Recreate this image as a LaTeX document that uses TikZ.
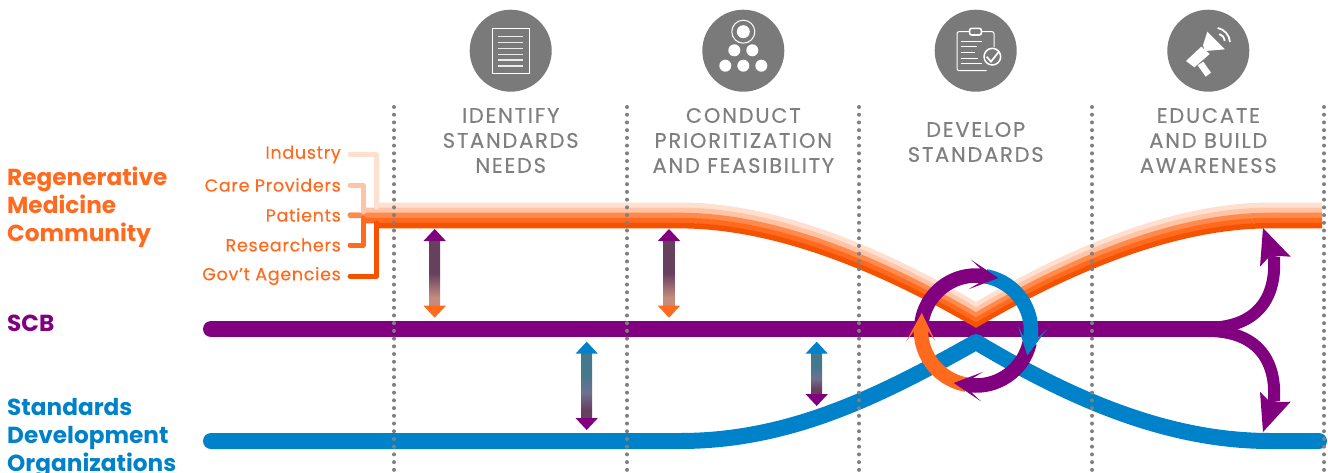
\documentclass[tikz,border=0pt]{standalone}
\usepackage{fontspec}
\setmainfont{Poppins}
\newfontfamily\phasefont{Poppins}[LetterSpace=8.5,FakeBold=0.4]
\newfontfamily\memberfont{Poppins}[LetterSpace=4,FakeBold=0.4]
\definecolor{or1}{HTML}{FFE0D0}
\definecolor{or2}{HTML}{FFC4A6}
\definecolor{or3}{HTML}{FF8A4D}
\definecolor{or4}{HTML}{FF6A1F}
\definecolor{or5}{HTML}{F55200}
\definecolor{scb}{HTML}{800080}
\definecolor{sdo}{HTML}{0082CA}
\definecolor{icongray}{HTML}{7A7A7A}
\definecolor{headgray}{HTML}{7F7F7F}
\definecolor{dotgray}{HTML}{808080}
\definecolor{shPurple}{HTML}{68405F}
\definecolor{shOrange}{HTML}{C48C7C}
\definecolor{shBlue}{HTML}{44788F}
\definecolor{shMid}{HTML}{6F7092}
\pgfdeclareverticalshading{shadeOrange}{100bp}{color(0bp)=(shOrange);color(25bp)=(shOrange);color(32bp)=(shOrange);color(50bp)=(shPurple);color(75bp)=(shPurple);color(100bp)=(shPurple)}
\pgfdeclareverticalshading{shadeBlue}{100bp}{color(0bp)=(shPurple);color(25bp)=(shPurple);color(32bp)=(shPurple);color(45bp)=(shMid);color(58bp)=(shBlue);color(75bp)=(shBlue);color(100bp)=(shBlue)}
\tikzset{
  bigband/.style={line width=16pt,line cap=round,line join=round},
  stub/.style={line width=5pt,line cap=round,line join=round},
  dots/.style={dotgray,line width=4pt,line cap=round,dash pattern=on 0pt off 7.72pt},
  ringarc/.style={line width=14.5pt},
  iconbg/.style={circle,fill=icongray,minimum size=82pt,inner sep=0pt},
  phase/.style={headgray,align=center,font=\fontsize{21}{25}\phasefont,inner sep=0pt},
  group/.style={align=left,anchor=north west,font=\fontsize{23.2}{28}\selectfont\bfseries,inner sep=0pt},
  member/.style={or4,anchor=east,font=\fontsize{17.5}{20}\memberfont,inner sep=0pt},
  iconline/.style={white,line width=1pt},
}
% orange ribbon layer: top edge offset #2, start x #3
\newcommand\ribbon[3]{\fill[#1,shift={(0,#2)}]
  (#3,202.5) -- (680,202.5) .. controls (772,202.5) and (875,243) .. (976,302)
  .. controls (1077,243) and (1178,202.5) .. (1270,202.5) -- (1322,202.5)
  -- (1322,208) -- (1270,208) .. controls (1178,208) and (1077,248.5) .. (976,307.5)
  .. controls (875,248.5) and (772,208) .. (680,208) -- (#3,208) -- cycle;}
% double arrow: x, top tip, bottom tip, top colour, bottom colour, shading
\newcommand\twoway[6]{
  \shade[shading=#6] (#1-5.5,#2+11) rectangle (#1+5.5,#3-11);
  \fill[#4] (#1,#2) -- (#1+11.2,#2+12) -- (#1-11.2,#2+12) -- cycle;
  \fill[#5] (#1,#3) -- (#1+11.2,#3-12) -- (#1+5.5,#3-12) -- (#1-5.5,#3-12) -- (#1-11.2,#3-12) -- cycle;
}
% ring arc, clockwise on screen
\newcommand\ringshaft[3]{\draw[ringarc,#1] plot[domain=#2:#3,samples=40] ({976+55*cos(\x)},{330.5+55*sin(\x)});}
\newcommand\ringhead[2]{\fill[#1]
  ({976+57*cos(#2)},{330.5+57*sin(#2)})
  -- ({976+71*cos(#2-27)},{330.5+71*sin(#2-27)})
  -- ({976+62.2*cos(#2-19)},{330.5+62.2*sin(#2-19)})
  -- ({976+47.8*cos(#2-19)},{330.5+47.8*sin(#2-19)})
  -- ({976+42*cos(#2-33)},{330.5+42*sin(#2-33)}) -- cycle;}
\begin{document}
\begin{tikzpicture}[x=1pt,y=-1pt]
\useasboundingbox (0,0) rectangle (1328,472);
% icons
\node[iconbg] (icA) at (510.7,50.7) {};
\node[iconbg] (icB) at (743.3,50.7) {};
\node[iconbg] (icC) at (975.7,50.7) {};
\node[iconbg] (icD) at (1208.3,50.7) {};
% document
\draw[white,line width=1pt] (492.3,28.3) rectangle (529.3,73.3);
\foreach \yy in {36.7,42.7,48.3,54.3,60,66}
  \draw[white!85!icongray,line width=1.5pt] (498.3,\yy) -- (522.7,\yy);
% pyramid
\draw[white,line width=1pt] (743.3,31.7) circle[radius=11.5];
\fill[white] (743.3,31.7) circle[radius=6.5];
\foreach \xx/\yy in {734.3/50.3,752.3/50.3,725.3/65.7,743.3/65.7,761.3/65.7}
  \fill[white] (\xx,\yy) circle[radius=6];
% clipboard
\begin{scope}[shift={(945,20)},x=0.3333pt,y=-0.3333pt]
  \draw[iconline,rounded corners=2pt] (75,35) -- (36,35) -- (36,152) -- (125,152);
  \draw[iconline,rounded corners=2pt] (108,35) -- (147,35) -- (147,82);
  \draw[iconline,fill=icongray,rounded corners=2pt,line width=1.6pt] (74,25) rectangle (109,45);
  \foreach \yy/\xx in {63/110,80/95,97/90,115/100,130/112}
    \draw[iconline] (47,\yy) -- (\xx,\yy);
  \draw[white,line width=1.5pt,fill=icongray] (142,110) circle[radius=25];
  \draw[white,line width=1.7pt] (125,110) -- (138,125) -- (160,97);
\end{scope}
% megaphone
\begin{scope}[shift={(1175,20)},x=0.3333pt,y=-0.3333pt]
  \fill[white] (97,35) -- (150,88) -- (90,93) -- (84,76) -- cycle;
  \fill[white] (79,80) -- (104,102) -- (58,142) -- (33,123) -- cycle;
  \fill[white] (68,136) -- (85,125) -- (108,158) -- (92,170) -- cycle;
  \draw[white,line width=1.8pt] (133,42) .. controls (142,45) and (148,52) .. (149,63);
  \draw[white,line width=1.8pt] (128,24) .. controls (148,28) and (163,44) .. (165,66);
\end{scope}
% phase titles
\node[phase] (tA) at (510.7,140.5) {IDENTIFY\\STANDARDS\\NEEDS};
\node[phase] (tB) at (743.3,140.5) {CONDUCT\\PRIORITIZATION\\AND FEASIBILITY};
\node[phase] (tC) at (975.7,142) {DEVELOP\\STANDARDS};
\node[phase] (tD) at (1208.3,140.5) {EDUCATE\\AND BUILD\\AWARENESS};
% group labels
\node[group,or4] (gA) at (7,167) {Regenerative\\Medicine\\Community};
\node[group,scb] (gB) at (7,315) {SCB};
\node[group,sdo] (gC) at (7,398) {Standards\\Development\\Organizations};
% members
\node[member] (mA) at (341,154.5) {Industry};
\node[member] (mB) at (341,185) {Care Providers};
\node[member] (mC) at (341,215) {Patients};
\node[member] (mD) at (341,245) {Researchers};
\node[member] (mE) at (341,276) {Gov’t Agencies};
% lower bands
\draw[bigband,scb,line cap=round] (211,329) -- (1222,329);
\draw[bigband,sdo] (211,441) -- (680,441) .. controls (790,441) and (880,396) .. (976,342)
  .. controls (1060,392) and (1160,441) .. (1270,441) -- (1319,441);
% ribbon
\ribbon{or1}{0}{376}
\ribbon{or2}{5.1}{362}
\ribbon{or3}{10.2}{349}
\ribbon{or4}{15.3}{362}
\ribbon{or5}{20.4}{376}
% member stubs
\coordinate (jA) at (376.7,207);
\coordinate (jB) at (363,212);
\coordinate (jC) at (360,215.3);
\coordinate (jD) at (363,218);
\coordinate (jE) at (376.7,223);
\draw[stub,or1] ([xshift=9pt]mA.east) -| (jA);
\draw[stub,or2] ([xshift=9pt]mB.east) -| (jB);
\draw[stub,or3] ([xshift=9pt]mC.east) -- (jC);
\draw[stub,or4] ([xshift=9pt]mD.east) -| (jD);
\draw[stub,or5] ([xshift=9pt]mE.east) -| (jE);
% split arrows
\draw[scb,line width=12pt] (1208,327.7) .. controls (1250,327.7) and (1277,305) .. (1274,257);
\draw[scb,line width=12pt] (1208,331) .. controls (1250,331) and (1277,353) .. (1274,401);
\fill[scb] (1263,228) -- (1290.7,256.7) -- (1279.5,256) -- (1268,258) -- (1260,266.7) -- cycle;
\fill[scb] (1263,432) -- (1290.7,401.7) -- (1279.5,402) -- (1268,400) -- (1260,391.7) -- cycle;
% exchange arrows
\twoway{434.7}{229}{317.7}{scb}{or4}{shadeOrange}
\twoway{669}{229}{317.7}{scb}{or4}{shadeOrange}
\twoway{586.7}{341.7}{430}{sdo}{scb}{shadeBlue}
\twoway{816.7}{341.7}{406}{sdo}{scb}{shadeBlue}
% ring
\ringshaft{scb}{-175}{-85}
\ringshaft{sdo}{-80}{8}
\ringshaft{scb}{13}{95}
\ringshaft{or4}{100}{180}
\ringhead{scb}{-67}
\ringhead{sdo}{26}
\ringhead{scb}{113}
\ringhead{or4}{198}
% dotted phase lines
\foreach \xx in {394,627,859,1092,1324}
  \draw[dots] (\xx,107) -- (\xx,472);
\end{tikzpicture}
\end{document}
